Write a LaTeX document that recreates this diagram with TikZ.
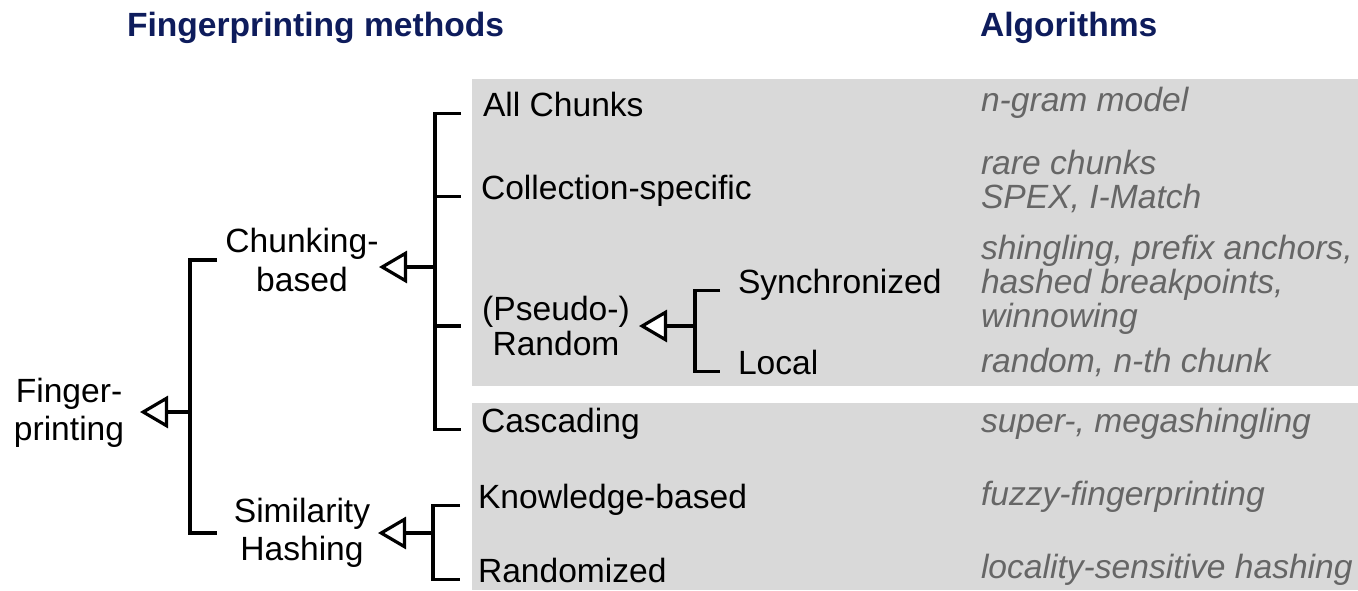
\documentclass[tikz,border=0pt]{standalone}
\usepackage{fontspec}
\setmainfont{Liberation Sans}
\usetikzlibrary{arrows.meta}

\definecolor{headnavy}{RGB}{14,28,92}
\definecolor{panelgray}{RGB}{217,217,217}
\definecolor{algogray}{RGB}{102,102,102}

\newcommand{\diagfont}{\fontsize{33.6}{38.5}\selectfont}

\tikzset{
  txt/.style={inner sep=0pt, outer sep=0pt, font=\diagfont},
  head/.style={txt, anchor=base west, text=headnavy, font=\diagfont\bfseries},
  leaf/.style={txt, anchor=base west},
  inner/.style={txt, anchor=center, align=center},
  % multi-line algorithm lists are placed by the baseline of their last line
  algo/.style={txt, anchor=base west, align=left, text=algogray,
               font=\fontsize{33.6}{33.8}\selectfont\itshape},
  link/.style={draw=black, line width=3.2pt},
  gen/.style={link, -{Triangle[length=28pt, width=32pt, fill=white]}},
}

\begin{document}
\begin{tikzpicture}[x=1pt, y=-1pt]
\useasboundingbox (0,0) rectangle (1358,590);

% shaded panels behind the leaf methods and algorithms
\fill[panelgray] (472,79) rectangle (1358,386);
\fill[panelgray] (472,403) rectangle (1358,590);

% column headings
\node[head] (hmeth) at (127,36) {Fingerprinting methods};
\node[head] (halgo) at (980,36) {Algorithms};

% inner categories
\node[inner] (root)   at (69,413)  {Finger-\\printing};
\node[inner] (chunk)  at (302,260) {Chunking-\\based};
\node[inner] (sim)    at (302,533) {Similarity\\Hashing};
\node[inner, font=\fontsize{33.6}{35.5}\selectfont] (pseudo) at (556,326) {(Pseudo-)\\Random};

% leaf methods
\node[leaf] (allc)  at (483,116) {All Chunks};
\node[leaf] (coll)  at (481,199) {Collection-specific};
\node[leaf] (sync)  at (738,293) {Synchronized};
\node[leaf] (local) at (738,374) {Local};
\node[leaf] (casc)  at (481,432) {Cascading};
\node[leaf] (know)  at (478,508) {Knowledge-based};
\node[leaf] (rnd)   at (478,582) {Randomized};

% algorithms
\node[algo] (ngram) at (981,111) {n-gram model};
\node[algo] (rare)  at (981,208) {rare chunks\\SPEX, I-Match};
\node[algo] (shing) at (981,327) {shingling, prefix anchors,\\hashed breakpoints,\\winnowing};
\node[algo] (nth)   at (981,372) {random, n-th chunk};
\node[algo] (super) at (981,432) {super-, megashingling};
\node[algo] (fuzzy) at (981,505) {fuzzy-fingerprinting};
\node[algo] (lsh)   at (981,578) {locality-sensitive hashing};

% bracket junctions, arm ends and arrow tips
\coordinate (Jroot) at (190,412);  \coordinate (Aroot) at (217,412);  \coordinate (Troot) at (140,412);
\coordinate (Jchunk) at (435,267); \coordinate (Achunk) at (461,267); \coordinate (Tchunk) at (379,267);
\coordinate (Jsim) at (433,533);   \coordinate (Asim) at (460,533);   \coordinate (Tsim) at (378,533);
\coordinate (Jps) at (695,326);    \coordinate (Aps) at (720,326);    \coordinate (Tps) at (639,326);

% Fingerprinting
\draw[link] (Aroot |- chunk) -- (Jroot |- chunk) -- (Jroot |- sim) -- (Aroot |- sim);
\draw[gen] (Jroot) -- (Troot);

% Chunking-based
\draw[link] (Achunk |- allc.mid west) -- (Jchunk |- allc.mid west)
            -- (Jchunk |- casc.mid west) -- (Achunk |- casc.mid west);
\draw[link] (Jchunk |- coll.mid west) -- (Achunk |- coll.mid west);
\draw[link] (Jchunk |- pseudo) -- (Achunk |- pseudo);
\draw[gen] (Jchunk) -- (Tchunk);

% Similarity hashing
\draw[link] (Asim |- know.mid west) -- (Jsim |- know.mid west)
            -- (Jsim |- rnd.mid west) -- (Asim |- rnd.mid west);
\draw[gen] (Jsim) -- (Tsim);

% (Pseudo-) Random
\draw[link] (Aps |- sync.mid west) -- (Jps |- sync.mid west)
            -- (Jps |- local.mid west) -- (Aps |- local.mid west);
\draw[gen] (Jps) -- (Tps);
\end{tikzpicture}
\end{document}
